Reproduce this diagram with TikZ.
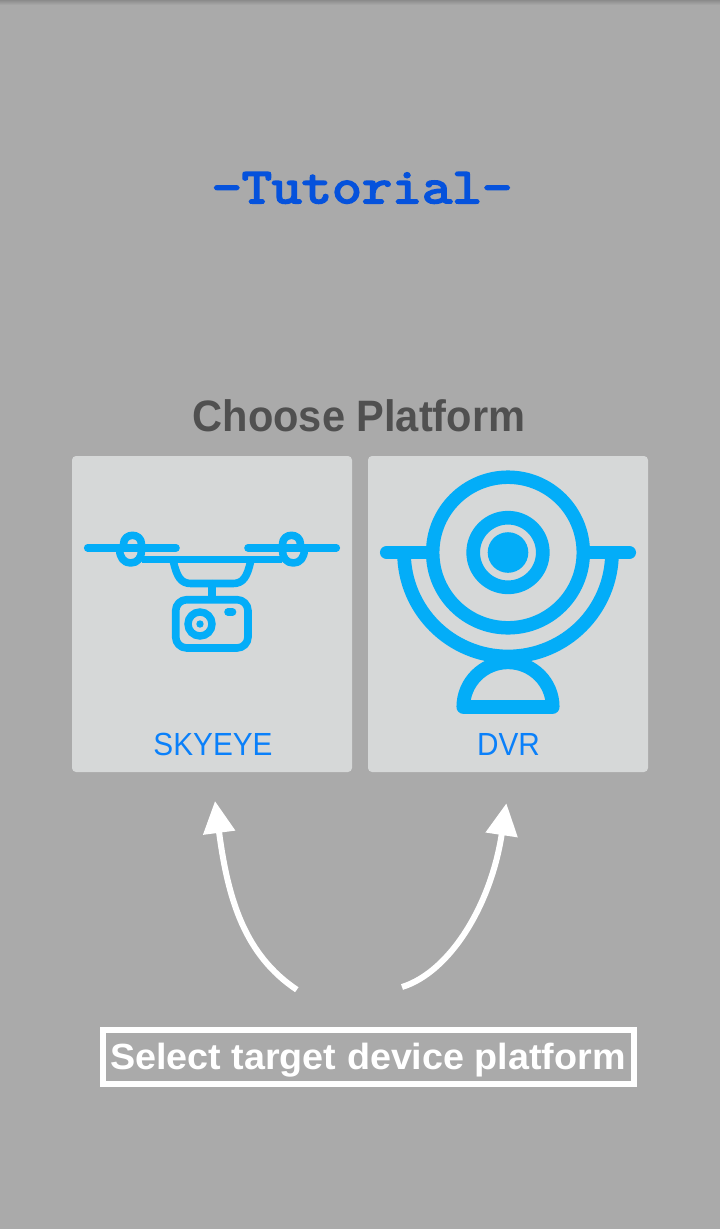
\documentclass[tikz,border=0pt]{standalone}
\usepackage{fontspec}
\usetikzlibrary{arrows.meta}
\setmainfont{Liberation Sans}
\newfontfamily\labfam[FakeStretch=0.93]{Liberation Sans}
\newfontfamily\headfam[FakeStretch=0.945]{Liberation Sans}
\newfontfamily\selfam[FakeStretch=1.036]{Liberation Sans}
\newfontfamily\tutfam[FakeBold=4,FakeStretch=1.167]{Latin Modern Mono}
\definecolor{bgc}{HTML}{AAAAAA}
\definecolor{cardc}{HTML}{D6D8D8}
\definecolor{iconc}{HTML}{03ADF8}
\definecolor{labc}{HTML}{0A80FA}
\definecolor{headc}{HTML}{505050}
\definecolor{tutc}{HTML}{0552DC}
\tikzset{
  card/.style={fill=cardc,rounded corners=4pt,draw=none},
  ico/.style={draw=iconc,line width=7.6pt,line cap=round,line join=round},
  icobig/.style={draw=iconc,line width=13.7pt,line cap=round,line join=round},
  labeltext/.style={text=labc,anchor=base,inner sep=0pt,font=\labfam\fontsize{32}{38}\selectfont},
  curvearrow/.style={draw=white,line width=6pt,-{Triangle[length=32pt,width=31pt]}},
}
\begin{document}
\begin{tikzpicture}[x=1pt,y=-1pt]
\useasboundingbox (0,0) rectangle (720,1229);
\fill[bgc] (0,0) rectangle (720,1229);
\shade[top color=black!18!bgc,bottom color=bgc] (0,0) rectangle (720,5);

\node[anchor=base,inner sep=0pt,text=tutc,font=\tutfam\fontsize{50}{56}\selectfont] (tut) at (362,203) {-Tutorial-};
\node[anchor=base,inner sep=0pt,text=headc,font=\headfam\bfseries\fontsize{44}{50}\selectfont] (head) at (359,431.7) {Choose Platform};

\fill[card] (72,456) rectangle (352,772);
\fill[card] (368,456) rectangle (648,772);

% drone
\draw[ico] (87.7,547.7) -- (176,547.7);
\draw[ico] (248,547.7) -- (336.3,547.7);
\foreach \m in {1,-1}{
  \begin{scope}[shift={(212,0)},xscale=\m]
    \draw[ico] (-88.5,548) -- (-88.5,544.3) .. controls (-88.5,532.3) and (-70.5,532.3) .. (-70.5,544.3)
      -- (-70.5,551) .. controls (-70.5,557.5) and (-74.5,563) .. (-81.4,563)
      .. controls (-88,563) and (-92.3,557.5) .. (-92.3,550);
    \draw[ico,line cap=butt] (-70,559.3) -- (0,559.3);
    \draw[ico,line cap=butt] (-38.5,562) .. controls (-35,577) and (-31,583.5) .. (-21,583.5) -- (0,583.5);
  \end{scope}
}
\draw[draw=iconc,line width=8pt] (212,583) -- (212,598);
\draw[ico,rounded corners=11pt] (175.7,599.7) rectangle (248,648);
\draw[ico] (228,612) -- (232.5,612);
\draw[draw=iconc,line width=7.4pt] (200,624) circle[radius=12];
\fill[iconc] (200,624) circle[radius=3.7];

% DVR
\draw[draw=iconc,line width=13.5pt] (508,552.5) circle[radius=75.3];
\draw[draw=iconc,line width=13.7pt] (508,552.5) circle[radius=34.8];
\fill[iconc] (508,552.5) circle[radius=20.3];
\draw[icobig] (386.8,552.5) -- (432,552.5);
\draw[icobig] (584,552.5) -- (629.2,552.5);
\draw[draw=iconc,line width=13.7pt] (404,552.5) arc[start angle=180,end angle=0,radius=104];
\draw[icobig] (463.3,707) arc[start angle=180,end angle=360,radius=44.7] -- cycle;

\node[labeltext] (sky) at (213,755) {SKYEYE};
\node[labeltext] (dvr) at (508.5,755) {DVR};

% arrows
\coordinate (la) at (296.8,989.7);
\coordinate (lb) at (215,801);
\coordinate (ra) at (402,987);
\coordinate (rb) at (506.4,803.3);
\draw[curvearrow] (la) .. controls (245,955) and (228,900) .. (lb);
\draw[curvearrow] (ra) .. controls (450,972) and (491,905) .. (rb);

\draw[white,line width=6pt] (103,1030) rectangle (634,1084);
\node[anchor=base,inner sep=0pt,text=white,font=\selfam\bfseries\fontsize{36.4}{42}\selectfont] (sel) at (368,1069.3) {Select target device platform};
\end{tikzpicture}
\end{document}
